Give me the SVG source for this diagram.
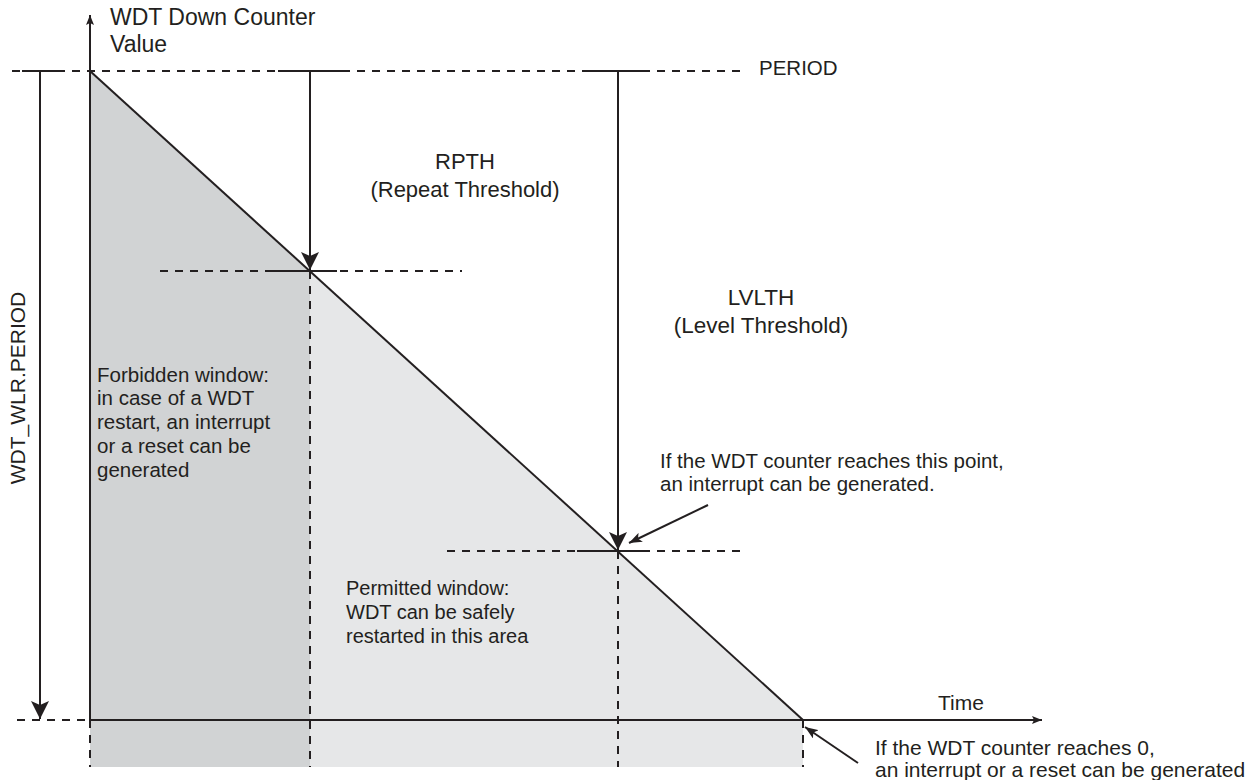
<svg xmlns="http://www.w3.org/2000/svg" width="1253" height="780" viewBox="0 0 1253 780">
<defs>
<style>
.t{font-family:"Liberation Sans",Arial,sans-serif;fill:#231f20;}
.s{stroke:#231f20;stroke-width:2;fill:none;}
.d{stroke:#231f20;stroke-width:2;fill:none;stroke-dasharray:8 7;}
</style>
<marker id="big" markerUnits="userSpaceOnUse" viewBox="0 0 18 18" markerWidth="18" markerHeight="18" refX="18" refY="9" orient="auto"><path d="M0,0 L18,9 L0,18 L4,9 z" fill="#231f20"/></marker>
<marker id="small" markerUnits="userSpaceOnUse" viewBox="0 0 10 8" markerWidth="10" markerHeight="8" refX="10" refY="4" orient="auto"><path d="M0,0 L10,4 L0,8 L2,4 z" fill="#231f20"/></marker>
<marker id="ann" markerUnits="userSpaceOnUse" viewBox="0 0 13 10" markerWidth="13" markerHeight="10" refX="13" refY="5" orient="auto"><path d="M0,0 L13,5 L0,10 L3,5 z" fill="#231f20"/></marker>
</defs>
<rect width="1253" height="780" fill="#ffffff"/>
<g id="areas">
<polygon points="90,71 310,271 310,767 90,767" fill="#d1d3d4"/>
<polygon points="310,271 803,720 803,767 310,767" fill="#e6e7e8"/>
</g>
<g id="connectors">
<line class="d" x1="12" y1="71" x2="745" y2="71"/>
<line class="s" x1="22" y1="71" x2="60" y2="71"/>
<line class="s" x1="278" y1="71" x2="342" y2="71"/>
<line class="s" x1="588" y1="71" x2="650" y2="71"/>
<line class="d" x1="160" y1="271" x2="462" y2="271"/>
<line class="s" x1="272" y1="271" x2="337" y2="271"/>
<line class="d" x1="447" y1="551" x2="745" y2="551"/>
<line class="s" x1="577" y1="551" x2="650" y2="551"/>
<line class="d" x1="17" y1="720" x2="88" y2="720"/>
<line class="d" x1="310" y1="271" x2="310" y2="767"/>
<line class="d" x1="618" y1="551" x2="618" y2="767"/>
<line class="d" x1="90" y1="720" x2="90" y2="767"/>
<line class="d" x1="803" y1="720" x2="803" y2="767"/>
<line class="s" x1="90" y1="720" x2="90" y2="15" marker-end="url(#small)"/>
<line class="s" x1="90" y1="720" x2="1042" y2="720" marker-end="url(#small)"/>
<line class="s" x1="90" y1="71" x2="803" y2="720"/>
<line class="s" x1="40" y1="71" x2="40" y2="719" marker-end="url(#big)"/>
<line class="s" x1="310" y1="71" x2="310" y2="270" marker-end="url(#big)"/>
<line class="s" x1="618" y1="71" x2="618" y2="550" marker-end="url(#big)"/>
<line class="s" x1="708" y1="505" x2="629" y2="543" marker-end="url(#ann)"/>
<line class="s" x1="858" y1="763" x2="805" y2="727" marker-end="url(#ann)"/>
</g>
<g id="axis-title">
<text class="t" x="110" y="25" font-size="23">WDT Down Counter</text>
<text class="t" x="110" y="52" font-size="23">Value</text>
</g>
<g id="period-label"><text class="t" x="759" y="75" font-size="20.5">PERIOD</text></g>
<g id="rpth">
<text class="t" x="465" y="169" font-size="22" text-anchor="middle">RPTH</text>
<text class="t" x="465" y="197" font-size="22" text-anchor="middle">(Repeat Threshold)</text>
</g>
<g id="lvlth">
<text class="t" x="761" y="305" font-size="22.5" text-anchor="middle">LVLTH</text>
<text class="t" x="761" y="333" font-size="22.5" text-anchor="middle">(Level Threshold)</text>
</g>
<g id="wlr-label">
<text class="t" font-size="21" text-anchor="middle" transform="translate(25,388) rotate(-90)">WDT_WLR.PERIOD</text>
</g>
<g id="forbidden">
<text class="t" x="97" y="382" font-size="20.5">Forbidden window:</text>
<text class="t" x="97" y="405" font-size="20.5">in case of a WDT</text>
<text class="t" x="97" y="429" font-size="20.5">restart, an interrupt</text>
<text class="t" x="97" y="453" font-size="20.5">or a reset can be</text>
<text class="t" x="97" y="477" font-size="20.5">generated</text>
</g>
<g id="permitted">
<text class="t" x="346" y="595" font-size="20">Permitted window:</text>
<text class="t" x="346" y="619" font-size="20">WDT can be safely</text>
<text class="t" x="346" y="643" font-size="20">restarted in this area</text>
</g>
<g id="lvlth-note">
<text class="t" x="660" y="468" font-size="20.5">If the WDT counter reaches this point,</text>
<text class="t" x="660" y="491" font-size="20.5">an interrupt can be generated.</text>
</g>
<g id="time-label"><text class="t" x="938" y="710" font-size="21">Time</text></g>
<g id="zero-note">
<text class="t" x="875" y="755" font-size="21">If the WDT counter reaches 0,</text>
<text class="t" x="875" y="777" font-size="21">an interrupt or a reset can be generated</text>
</g>
</svg>
